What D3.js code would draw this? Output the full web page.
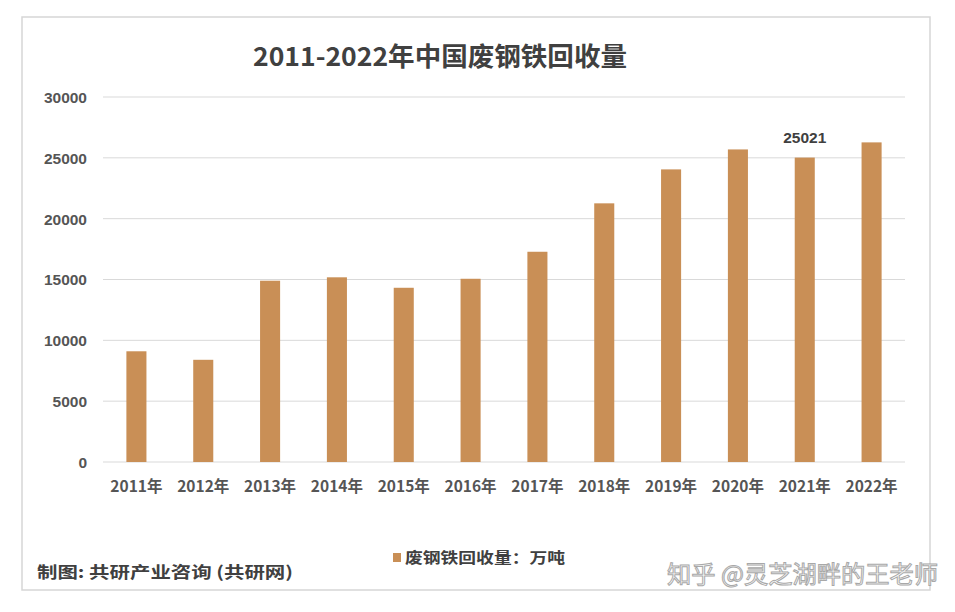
<!DOCTYPE html>
<html><head><meta charset="utf-8">
<script src="https://cdn.jsdelivr.net/npm/d3@7"></script>
<style>body{margin:0;background:#fff;} svg{display:block;}</style>
</head><body>
<svg id="chart" width="955" height="612"></svg>
<script>
const years = ["2011年","2012年","2013年","2014年","2015年","2016年","2017年","2018年","2019年","2020年","2021年","2022年"];
const values = [9100, 8400, 14900, 15180, 14320, 15060, 17280, 21260, 24050, 25690, 25021, 26270];
const yTicks = [0, 5000, 10000, 15000, 20000, 25000, 30000];
const labeledYears = ["2021年"];
const title = "2011-2022年中国废钢铁回收量";
const legendLabel = "废钢铁回收量：万吨";
const sourceText = "制图: 共研产业咨询 (共研网)";
const watermark = "知乎 @灵芝湖畔的王老师";

const svg = d3.select("#chart");
const cjk = "'Noto Sans CJK SC','Noto Sans',sans-serif";
const barColor = "#C98F56";
const textColor = "#404040";

svg.append("rect").attr("x",0).attr("y",0).attr("width",955).attr("height",612).attr("fill","#fff");
svg.append("rect").attr("x",22).attr("y",17).attr("width",908).attr("height",573)
  .attr("fill","#fff").attr("stroke","#d6d6d6").attr("stroke-width",1.5);

const x = d3.scaleBand().domain(years).range([103, 905]).paddingInner(0.7).paddingOuter(0.35);
const y = d3.scaleLinear().domain([0, 30000]).range([462, 97]);

// gridlines
svg.append("g").selectAll("line").data(yTicks).join("line")
  .attr("x1",103).attr("x2",905)
  .attr("y1",d=>y(d)).attr("y2",d=>y(d))
  .attr("stroke","#d9d9d9").attr("stroke-width",1);

// y axis labels
const yAxis = d3.axisLeft(y).tickValues(yTicks).tickSize(0).tickPadding(0).tickFormat(d3.format("d"));
const gy = svg.append("g").attr("transform","translate(87,0)").call(yAxis);
gy.select(".domain").remove();
gy.selectAll("text").attr("font-family","'Liberation Sans',Arial,sans-serif")
  .attr("font-size",15.5).attr("fill","#555").attr("font-weight","bold").attr("dy","0.35em");

// bars
svg.append("g").selectAll("rect").data(years).join("rect")
  .attr("x",d=>x(d)).attr("width",x.bandwidth())
  .attr("y",(d,i)=>y(values[i])).attr("height",(d,i)=>y(0)-y(values[i]))
  .attr("fill",barColor);

// x axis labels
const xAxis = d3.axisBottom(x).tickSize(0).tickPadding(0);
const gx = svg.append("g").attr("transform","translate(0,462)").call(xAxis);
gx.select(".domain").remove();
gx.selectAll("text").attr("font-family",cjk).attr("font-size",15.5).attr("font-weight","bold")
  .attr("fill","#555").attr("y",25).attr("dy","0.35em");

// data label
svg.append("g").selectAll("text").data(labeledYears).join("text")
  .attr("x",d=>x(d)+x.bandwidth()/2)
  .attr("y",d=>y(values[years.indexOf(d)])-15)
  .attr("text-anchor","middle").attr("font-family","'Liberation Sans',Arial,sans-serif")
  .attr("font-size",15.5).attr("font-weight","bold").attr("fill",textColor)
  .text(d=>values[years.indexOf(d)]);

// title
svg.append("text").attr("x",440).attr("y",66).attr("text-anchor","middle")
  .attr("font-family",cjk).attr("font-size",26).attr("font-weight","bold").attr("fill",textColor)
  .attr("textLength",374).attr("lengthAdjust","spacingAndGlyphs").text(title);

// legend
svg.append("rect").attr("x",393).attr("y",553).attr("width",8).attr("height",9).attr("fill",barColor);
svg.append("text").attr("x",405).attr("y",563).attr("font-family",cjk).attr("font-size",15)
  .attr("font-weight","bold").attr("fill",textColor)
  .attr("textLength",160).attr("lengthAdjust","spacingAndGlyphs").text(legendLabel);

// source
svg.append("text").attr("x",37).attr("y",578).attr("font-family",cjk).attr("font-size",16)
  .attr("font-weight","bold").attr("fill",textColor)
  .attr("textLength",256).attr("lengthAdjust","spacingAndGlyphs").text(sourceText);

// zhihu watermark
svg.append("text").attr("x",667).attr("y",583).attr("font-family",cjk).attr("font-size",24)
  .attr("fill","#fff").attr("stroke","#a8a8a8").attr("stroke-width",1)
  .attr("textLength",271).attr("lengthAdjust","spacingAndGlyphs").text(watermark);
</script>
</body></html>
